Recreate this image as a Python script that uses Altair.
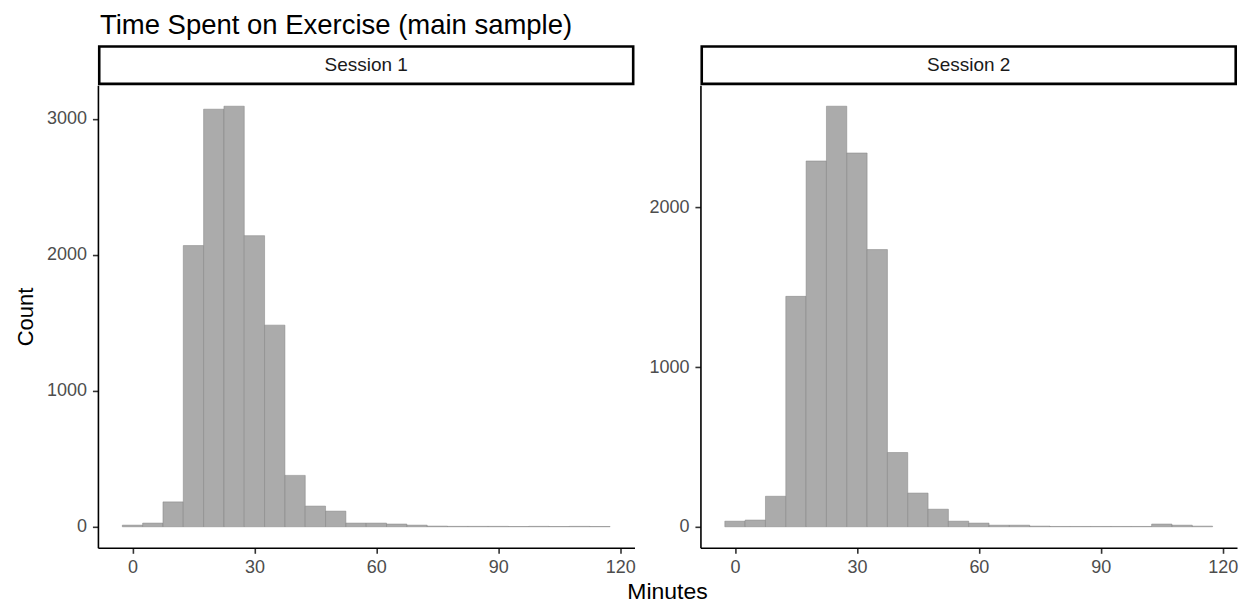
import altair as alt
import pandas as pd

# ---- data ----
bin_centers = [0, 5, 10, 15, 20, 25, 30, 35, 40, 45, 50, 55, 60, 65, 70, 75,
               80, 85, 90, 95, 100, 105, 110, 115]
counts_s1 = [12, 27, 183, 2068, 3071, 3093, 2141, 1483, 378, 152, 115, 27,
             27, 20, 12, 5, 3, 3, 3, 2, 3, 2, 3, 2]
counts_s2 = [35, 42, 191, 1443, 2291, 2634, 2341, 1736, 465, 211, 110, 35,
             23, 10, 10, 4, 2, 2, 2, 2, 2, 17, 10, 4]
session_labels = ["Session 1", "Session 2"]
x_ticks = [0, 30, 60, 90, 120]
y_ticks_s1 = [0, 1000, 2000, 3000]
y_ticks_s2 = [0, 1000, 2000]
bin_width = 5
title_text = "Time Spent on Exercise (main sample)"
x_title = "Minutes"
y_title = "Count"

FONT = "Liberation Sans"
W, H = 537, 463

lo = bin_centers[0] - bin_width / 2
hi = bin_centers[-1] + bin_width / 2
pad_x = (hi - lo) * 0.05
x_domain = [lo - pad_x, hi + pad_x]


def panel(counts, ticks, label, first):
    df = pd.DataFrame({
        "start": [c - bin_width / 2 for c in bin_centers],
        "end": [c + bin_width / 2 for c in bin_centers],
        "count": counts,
    })
    m = max(counts)
    y_domain = [-0.05 * m, 1.05 * m]

    if first:
        yaxis = alt.Axis(values=ticks, format="d", grid=False, title=y_title,
                         labelPadding=6,
                         titleX=-65, titleY=H / 2, titleAngle=270,
                         titleBaseline="alphabetic", titleAlign="center",
                         titleFontSize=22, titleFont=FONT, titleColor="black",
                         titleFontWeight="normal")
    else:
        yaxis = alt.Axis(values=ticks, format="d", grid=False, title="",
                         labelPadding=6)

    bars = alt.Chart(df).mark_rect(color="#ABABAB", stroke="#7F7F7F",
                                    strokeWidth=0.5).encode(
        x=alt.X("start:Q", scale=alt.Scale(domain=x_domain, nice=False, zero=False),
                axis=alt.Axis(values=x_ticks, grid=False, title="", labelPadding=5)),
        x2="end:Q",
        y=alt.Y("count:Q", scale=alt.Scale(domain=y_domain, nice=False, zero=False),
                axis=yaxis),
        y2=alt.datum(0),
    )

    sdf = pd.DataFrame({"label": [label]})
    strip = alt.Chart(sdf).mark_rect(fill="white", stroke="black",
                                     strokeWidth=2.6).encode(
        x=alt.value(1.3), x2=alt.value(W - 1.3),
        y=alt.value(-38.7), y2=alt.value(-1.3),
    )
    strip_text = alt.Chart(sdf).mark_text(font=FONT, fontSize=19, color="#1A1A1A",
                                          baseline="middle", align="center").encode(
        x=alt.value(W / 2), y=alt.value(-20), text="label:N",
    )
    layers = [bars, strip, strip_text]
    if first:
        tdf = pd.DataFrame({"t": [title_text], "m": [x_title]})
        title = alt.Chart(tdf).mark_text(font=FONT, fontSize=27.5, color="black",
                                         baseline="alphabetic", align="left").encode(
            x=alt.value(2), y=alt.value(-51), text="t:N")
        xt = alt.Chart(tdf).mark_text(font=FONT, fontSize=23, color="black",
                                      baseline="alphabetic", align="center").encode(
            x=alt.value(570), y=alt.value(514), text="m:N")
        layers += [title, xt]
    return alt.layer(*layers).properties(width=W, height=H)


p1 = panel(counts_s1, y_ticks_s1, session_labels[0], True)
p2 = panel(counts_s2, y_ticks_s2, session_labels[1], False)

chart = alt.hconcat(p1, p2, spacing=66, bounds="flush").properties(
    padding={"left": 6, "top": 3, "right": 0, "bottom": 0}
).configure_view(stroke="transparent").configure_axis(
    domainColor="black", domainWidth=1.6, tickColor="#333333", tickWidth=1.6,
    tickSize=5.5, labelColor="#4D4D4D", labelFont=FONT, labelFontSize=18,
)

chart.save("out.html", embed_options={"renderer": "svg", "actions": False})
